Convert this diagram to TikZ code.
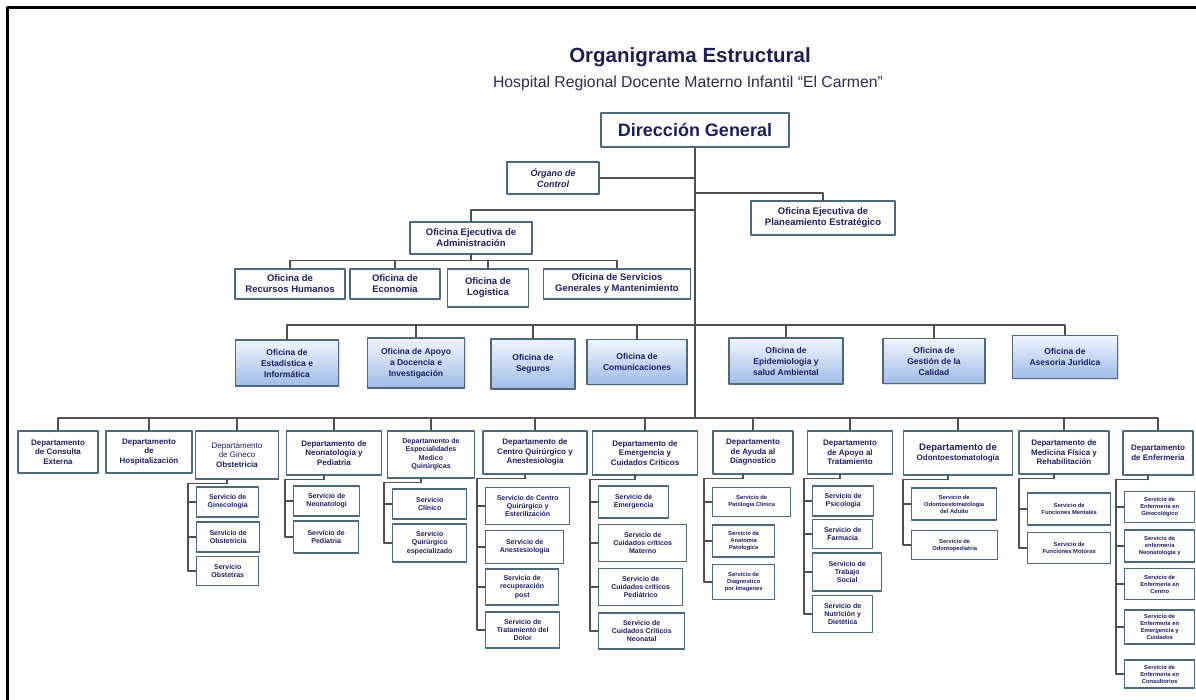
\documentclass[tikz,border=0pt]{standalone}
\usepackage{fontspec}
\setmainfont{Liberation Sans}
\usepackage{xcolor}
\usetikzlibrary{positioning,calc,shadows}

\definecolor{azultexto}{RGB}{30,32,96}
\definecolor{titulo}{RGB}{28,30,84}
\definecolor{gristexto}{RGB}{45,45,75}
\definecolor{borde}{RGB}{78,104,124}
\definecolor{linea}{RGB}{80,80,80}
\definecolor{celesteA}{RGB}{240,245,253}
\definecolor{celesteB}{RGB}{160,188,232}

\begin{document}
\begin{tikzpicture}[x=1pt,y=-1pt, line cap=round, line join=round]
	% ===== estilos =====
	\tikzset{
		caja/.style={draw=borde, line width=1.6pt, fill=white, text=azultexto, align=center, inner sep=1pt},
		sz/.style 2 args={minimum width=#1pt, minimum height=#2pt},
		ofi/.style={caja, font=\fontsize{9.5}{11}\selectfont\bfseries},
		azul/.style={caja, top color=celesteA, bottom color=celesteB,
			drop shadow={opacity=0.25, shadow xshift=1.2pt, shadow yshift=-1.2pt},
			font=\fontsize{8.5}{11}\selectfont\bfseries},
		dep/.style={caja, anchor=north, font=\fontsize{8}{9.5}\selectfont\bfseries},
		serv/.style={caja, anchor=west, line width=1.4pt, font=\fontsize{7}{8.3}\selectfont\bfseries},
		servs/.style={serv, font=\fontsize{5.8}{7}\selectfont\bfseries},
		link/.style={draw=linea, line width=1.3pt}
	}
	
	\useasboundingbox (0,0) rectangle (1196,699);
	% ===== marco (solo arriba e izquierda) =====
	\draw[line width=3pt, line cap=rect] (7,699) -- (7,7) -- (1196,7);
	
	% ===== titulo =====
	\node[text=titulo, font=\fontsize{20.5}{24}\selectfont\bfseries] (tit) at (690,57) {Organigrama Estructural};
	\node[text=gristexto, font=\fontsize{15.8}{18}\selectfont] (subtit) at (688,83) {Hospital Regional Docente Materno Infantil “El Carmen”};
	
	% ===== alta direccion =====
	\node[caja, sz={188}{34}, font=\fontsize{18}{20}\selectfont\bfseries] (dg) at (695,130) {Dirección General};
	\node[caja, sz={92}{32}, font=\fontsize{9}{11}\selectfont\bfseries\itshape] (organo) at (553,178) {Órgano de\\Control};
	\node[ofi, sz={144}{34}] (plan) at (823,218) {Oficina Ejecutiva de\\Planeamiento Estratégico};
	\node[ofi, sz={122}{32}] (admin) at (471,238) {Oficina Ejecutiva de\\Administración};
	
	% ===== oficinas de administracion =====
	\node[ofi, sz={110}{30}] (rrhh) at (290,284) {Oficina de\\Recursos Humanos};
	\node[ofi, sz={90}{30}] (econ) at (395,284) {Oficina de\\Economia};
	\node[ofi, sz={81}{38}] (logi) at (488,288) {Oficina de\\Logistica};
	\node[ofi, sz={147}{30}] (sgm) at (617,284) {Oficina de Servicios\\Generales y Mantenimiento};
	
	% ===== oficinas de apoyo (azules) =====
	\node[azul, sz={103}{46}] (esta) at (287,363) {Oficina de\\Estadistica e\\Informática};
	\node[azul, sz={97}{50}] (doce) at (416,363) {Oficina de Apoyo\\a Docencia e\\Investigación};
	\node[azul, sz={84}{50}] (segu) at (533,364) {Oficina de\\Seguros};
	\node[azul, sz={100}{45}] (comu) at (637,362) {Oficina de\\Comunicaciones};
	\node[azul, sz={114}{46}] (epid) at (786,361) {Oficina de\\Epidemiologia y\\salud Ambiental};
	\node[azul, sz={102}{45}] (cali) at (934,361) {Oficina de\\Gestión de la\\Calidad};
	\node[azul, sz={105}{43}] (juri) at (1065,357) {Oficina de\\Asesoria Juridica};
	
	% ===== departamentos (borde superior en y=430) =====
	\node[dep, sz={80}{42}] (cons) at (58,430) {Departamento\\de Consulta\\Externa};
	\node[dep, sz={86}{42}] (hosp) at (149,430) {Departamento\\de\\Hospitalización};
	\node[dep, sz={83}{48}, font=\fontsize{8}{9.5}\selectfont] (gine) at (237,430) {Departamento\\de Gineco\\\textbf{Obstetricia}};
	\node[dep, sz={95}{44}] (neo) at (334,430) {Departamento de\\Neonatologia y\\Pediatria};
	\node[dep, sz={87}{47}, font=\fontsize{7}{8.3}\selectfont\bfseries] (espe) at (431,430) {Departamento de\\Especialidades\\Medico\\Quirúrgicas};
	\node[dep, sz={104}{43}] (cqui) at (535,430) {Departamento de\\Centro Quirúrgico y\\Anestesiologia};
	\node[dep, sz={105}{44}] (emer) at (645,430) {Departamento de\\Emergencia y\\Cuidados Críticos};
	\node[dep, sz={80}{43}] (ayud) at (753,430) {Departamento\\de Ayuda al\\Diagnostico};
	\node[dep, sz={85}{43}] (apoy) at (850,430) {Departamento\\de Apoyo al\\Tratamiento};
	\node[dep, sz={109}{44}] (odon) at (958,430) {{\fontsize{9.5}{11}\selectfont Departamento de}\\Odontoestomatologia};
	\node[dep, sz={90}{43}] (mfis) at (1064,430) {Departamento de\\Medicina Física y\\Rehabilitación};
	\node[dep, sz={70}{44}] (enfe) at (1158,430) {Departamento\\de Enfermeria};
	
	% ===== servicios (borde izquierdo alineado) =====
	\node[serv, sz={62}{30}] (gin1) at (196,502) {Servicio de\\Ginecologia};
	\node[serv, sz={63}{30}] (gin2) at (196,537) {Servicio de\\Obstetricia};
	\node[serv, sz={62}{29}] (gin3) at (196,571) {Servicio\\Obstetras};
	
	\node[serv, sz={66}{30}] (neo1) at (293,501) {Servicio de\\Neonatologi};
	\node[serv, sz={65}{32}] (neo2) at (293,537) {Servicio de\\Pediatria};
	
	\node[serv, sz={74}{30}] (esp1) at (392,504) {Servicio\\Clínico};
	\node[serv, sz={74}{38}] (esp2) at (392,543) {Servicio\\Quirúrgico\\especializado};
	
	\node[serv, sz={84}{37}] (cq1) at (485,506) {Servicio de Centro\\Quirúrgico y\\Esterilización};
	\node[serv, sz={78}{33}] (cq2) at (485,547) {Servicio de\\Anestesiologia};
	\node[serv, sz={73}{36}] (cq3) at (485,587) {Servicio de\\recuperación\\post};
	\node[serv, sz={74}{36}] (cq4) at (485,630) {Servicio de\\Tratamiento del\\Dolor};
	
	\node[serv, sz={70}{32}] (em1) at (598,502) {Servicio de\\Emergencia};
	\node[serv, sz={88}{37}] (em2) at (598,543) {Servicio de\\Cuidados críticos\\Materno};
	\node[serv, sz={84}{37}] (em3) at (598,587) {Servicio de\\Cuidados críticos\\Pediátrico};
	\node[serv, sz={86}{36}] (em4) at (598,631) {Servicio de\\Cuidados Críticos\\Neonatal};
	
	\node[servs, sz={78}{29}] (ay1) at (712,502) {Servicio de\\Patologia Clinica};
	\node[servs, sz={62}{32}] (ay2) at (712,541) {Servicio de\\Anatomia\\Patologica};
	\node[servs, sz={62}{35}] (ay3) at (712,582) {Servicio de\\Diagnostico\\por Imagenes};
	
	\node[serv, sz={61}{30}] (ap1) at (812,501) {Servicio de\\Psicologia};
	\node[serv, sz={60}{29}] (ap2) at (812,534) {Servicio de\\Farmacia};
	\node[serv, sz={69}{38}] (ap3) at (812,572) {Servicio de\\Trabajo\\Social};
	\node[serv, sz={60}{37}] (ap4) at (812,614) {Servicio de\\Nutrición y\\Dietética};
	
	\node[servs, sz={85}{32}] (od1) at (911,504) {Servicio de\\Odontoestomatologia\\del Adulto};
	\node[servs, sz={86}{29}] (od2) at (911,545) {Servicio de\\Odontopediatria};
	
	\node[servs, sz={83}{32}] (mf1) at (1027,509) {Servicio de\\Funciones Mentales};
	\node[servs, sz={83}{31}] (mf2) at (1027,548) {Servicio de\\Funciones Motoras};
	
	\node[servs, sz={70}{31}] (en1) at (1124,507) {Servicio de\\Enfermeria en\\Ginecológico};
	\node[servs, sz={70}{32}] (en2) at (1124,546) {Servicio de\\enfermería\\Neonatologia y};
	\node[servs, sz={70}{31}] (en3) at (1124,584) {Servicio de\\Enfermeria en\\Centro};
	\node[servs, sz={70}{34}] (en4) at (1124,627) {Servicio de\\Enfermeria en\\Emergencia y\\Cuidados};
	\node[servs, sz={70}{28}] (en5) at (1124,674) {Servicio de\\Enfermeria en\\Consultorios};
	
	% ===== lineas: tronco y ramas =====
	\coordinate (j-plan) at (695,193);
	\coordinate (j-admin) at (695,210);
	\coordinate (j-azul) at (695,325);
	\coordinate (j-depto) at (695,418);
	\draw[link] (dg.south) -- (j-depto);
	\draw[link] (organo.east) -- (organo.east -| dg.south);
	\draw[link] (j-plan) -| (plan.north);
	\draw[link] (j-admin) -| (admin.north);
	
	\coordinate (j-sub) at ([yshift=-6pt]admin.south);
	\draw[link] (admin.south) -- (j-sub);
	\foreach \o in {rrhh,econ,logi,sgm}
		\draw[link] (j-sub) -| (\o.north);
	
	\foreach \o in {esta,doce,segu,comu,epid,cali,juri}
		\draw[link] (j-azul) -| (\o.north);
	
	\foreach \o in {cons,hosp,gine,neo,espe,cqui,emer,ayud,apoy,odon,mfis,enfe}
		\draw[link] (j-depto) -| (\o.north);
	
	% ===== departamento -> servicios =====
	\foreach \d in {gine,neo,espe,cqui,emer,ayud,apoy,odon,mfis,enfe}{
		\coordinate (\d-j) at ([xshift=-10pt,yshift=-4pt]\d.south);
		\draw[link] (\d.south -| \d-j) -- (\d-j);
	}
	\foreach \s in {gin1,gin2,gin3} \draw[link] (\s.west) -- ++(-8,0) |- (gine-j);
	\foreach \s in {neo1,neo2} \draw[link] (\s.west) -- ++(-8,0) |- (neo-j);
	\foreach \s in {esp1,esp2} \draw[link] (\s.west) -- ++(-8,0) |- (espe-j);
	\foreach \s in {cq1,cq2,cq3,cq4} \draw[link] (\s.west) -- ++(-8,0) |- (cqui-j);
	\foreach \s in {em1,em2,em3,em4} \draw[link] (\s.west) -- ++(-8,0) |- (emer-j);
	\foreach \s in {ay1,ay2,ay3} \draw[link] (\s.west) -- ++(-8,0) |- (ayud-j);
	\foreach \s in {ap1,ap2,ap3,ap4} \draw[link] (\s.west) -- ++(-8,0) |- (apoy-j);
	\foreach \s in {od1,od2} \draw[link] (\s.west) -- ++(-8,0) |- (odon-j);
	\foreach \s in {mf1,mf2} \draw[link] (\s.west) -- ++(-8,0) |- (mfis-j);
	\foreach \s in {en1,en2,en3,en4,en5} \draw[link] (\s.west) -- ++(-8,0) |- (enfe-j);
	
\end{tikzpicture}
\end{document}
